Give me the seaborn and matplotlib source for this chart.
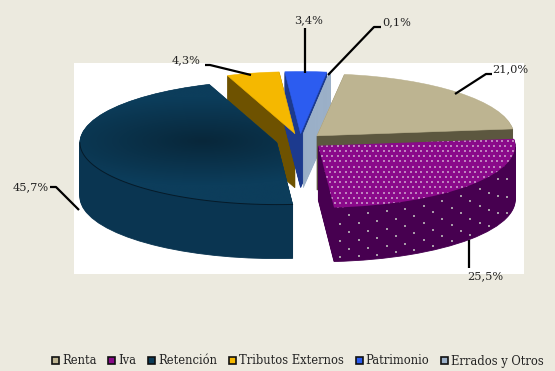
import numpy as np
import matplotlib
matplotlib.use("Agg")
import matplotlib.pyplot as plt
from matplotlib.patches import Patch, Rectangle
import seaborn as sns

categories = ["Renta", "Iva", "Retención", "Tributos Externos", "Patrimonio", "Errados y Otros"]
values = [21.0, 25.5, 45.7, 4.3, 3.4, 0.1]
labels = ["21,0%", "25,5%", "45,7%", "4,3%", "3,4%", "0,1%"]
top_colors = ["#BDB491", "#8A0A8A", "#0B3B58", "#F5B800", "#2C5CF0", "#9BB0C8"]
wall_colors = ["#5C573F", "#470050", "#0A3551", "#6E5200", "#1C3A8E", "#9BB0C8"]
wall_z = [6, 8, 8, 1, 2, 3]
top_z = [7, 9, 9, 4, 5, 5.5]

BG = "#ECEADF"
W, H = 555, 371
CX, CY, RX, RY = 300, 141, 197, 62
DEPTH = 54
START = 82
EXPLODE = 0.12
FONT = "DejaVu Serif"

sns.set_theme(style="white")
plt.rcParams["font.family"] = [FONT]

fig = plt.figure(figsize=(W / 100, H / 100), dpi=100, facecolor=BG)
ax = fig.add_axes([0, 0, 1, 1])
explode = [EXPLODE] * len(values)


def ux(px):
    return (px - CX) / RX


def uy(py):
    return (CY - py) / RY


palette = sns.color_palette(wall_colors)
for step in range(DEPTH, 0, -1):
    wedges, _ = ax.pie(values, explode=explode, colors=palette, startangle=START,
                       counterclock=False, center=(0, -step / RY), radius=1,
                       wedgeprops={"linewidth": 0.6})
    for w, c, z in zip(wedges, wall_colors, wall_z):
        w.set_edgecolor(c)
        w.set_zorder(z)

tops, _ = ax.pie(values, explode=explode, colors=sns.color_palette(top_colors),
                 startangle=START, counterclock=False, center=(0, 0), radius=1,
                 wedgeprops={"linewidth": 0.4})
for w, c, z in zip(tops, top_colors, top_z):
    w.set_zorder(z)
    w.set_edgecolor(c)
tops[1].set_linewidth(0)

# Iva top: light dot texture clipped to the wedge
gx, gy = np.meshgrid(np.arange(300, 530, 5.4), np.arange(125, 215, 5.2))
gx = gx + (np.arange(gx.shape[0]) % 2)[:, None] * 2.7
sc = ax.scatter(ux(gx.ravel()), uy(gy.ravel()), s=1.3, marker="s", color="#BE82BE",
                linewidths=0, zorder=9.2)
sc.set_clip_path(tops[1])

# Retención top: darker toward the centre
grid_y, grid_x = np.mgrid[-1.3:1.3:160j, -1.3:1.3:160j]
shade = np.clip(np.hypot(grid_x + 0.5, grid_y * 1.2) / 0.85, 0, 1)
img = np.zeros(shade.shape + (3,))
for i, (dark, light) in enumerate(zip((0x08, 0x27, 0x3A), (0x0C, 0x3D, 0x5B))):
    img[..., i] = (dark + (light - dark) * shade) / 255
im = ax.imshow(img, extent=(-1.3, 1.3, -1.3, 1.3), origin="lower", aspect="auto",
               zorder=9.1, interpolation="bilinear")
im.set_clip_path(tops[2])

# Thin dark rim where the Retención top meets its wall
fractions = np.cumsum([0] + values) / sum(values) * 360
r0, r1 = 90 - START + fractions[2], 90 - START + fractions[3]
rmid = np.deg2rad((r0 + r1) / 2)
rim = np.deg2rad(np.linspace(r0, 270, 80))
ax.plot(EXPLODE * np.sin(rmid) + np.sin(rim), EXPLODE * np.cos(rmid) + np.cos(rim),
        color="#061A28", lw=0.7, zorder=9.3)

# Iva wall: staggered dots following the curved side
a0, a1 = 90 - START + fractions[1], 90 - START + fractions[2]
mid = np.deg2rad((a0 + a1) / 2)
ex, ey = EXPLODE * np.sin(mid), EXPLODE * np.cos(mid)
dx, dy = [], []
for k, px in enumerate(np.arange(340, 512, 9.3)):
    u = (px - CX) / RX - ex
    if abs(u) >= 1:
        continue
    edge = ey - np.sqrt(1 - u * u)
    for frac in ((0.14, 0.46, 0.78) if k % 2 else (0.3, 0.62, 0.92)):
        dx.append(u + ex)
        dy.append(edge - frac * DEPTH / RY)
ax.scatter(dx, dy, s=3.5, marker="s", color="#A89AA8", linewidths=0, zorder=8.5)

# Plot-area panel and leader lines
ax.add_patch(Rectangle((ux(74), uy(274)), 450 / RX, 211 / RY, facecolor="white",
                       edgecolor="none", zorder=0))

leaders = [
    ((455, 94), (486, 74), (492, 74)),
    ((469, 240), (469, 268)),
    ((79, 210), (56, 187), (50, 187)),
    ((251, 75), (210, 65), (205, 65)),
    ((305, 73), (305, 28)),
    ((328, 75), (374, 27), (381, 27)),
]
for pts in leaders:
    ax.plot([ux(p[0]) for p in pts], [uy(p[1]) for p in pts], color="black", lw=1.6,
            zorder=12, solid_capstyle="butt")

label_pos = [(492, 69, "left"), (467, 276, "left"), (13, 187, "left"),
             (172, 60, "left"), (294, 20, "left"), (382, 22, "left")]
for lab, (px, py, ha) in zip(labels, label_pos):
    ax.text(ux(px), uy(py), lab, ha=ha, va="center", fontsize=8.2, color="#222222", zorder=13)

handles = [Patch(facecolor=c, edgecolor="#111111", linewidth=1.2) for c in top_colors]
ax.legend(handles, categories, ncol=6, frameon=False, loc="center left",
          bbox_to_anchor=(ux(52), uy(361)), bbox_transform=ax.transData,
          fontsize=8.3, handlelength=0.62, handleheight=0.62, handletextpad=0.25,
          columnspacing=1.02, borderpad=0, borderaxespad=0, labelcolor="#222222")

ax.set_aspect("auto")
ax.set_xlim(ux(0), ux(W))
ax.set_ylim(uy(H), uy(0))
ax.axis("off")
fig.savefig("out.png", dpi=100, facecolor=BG)
